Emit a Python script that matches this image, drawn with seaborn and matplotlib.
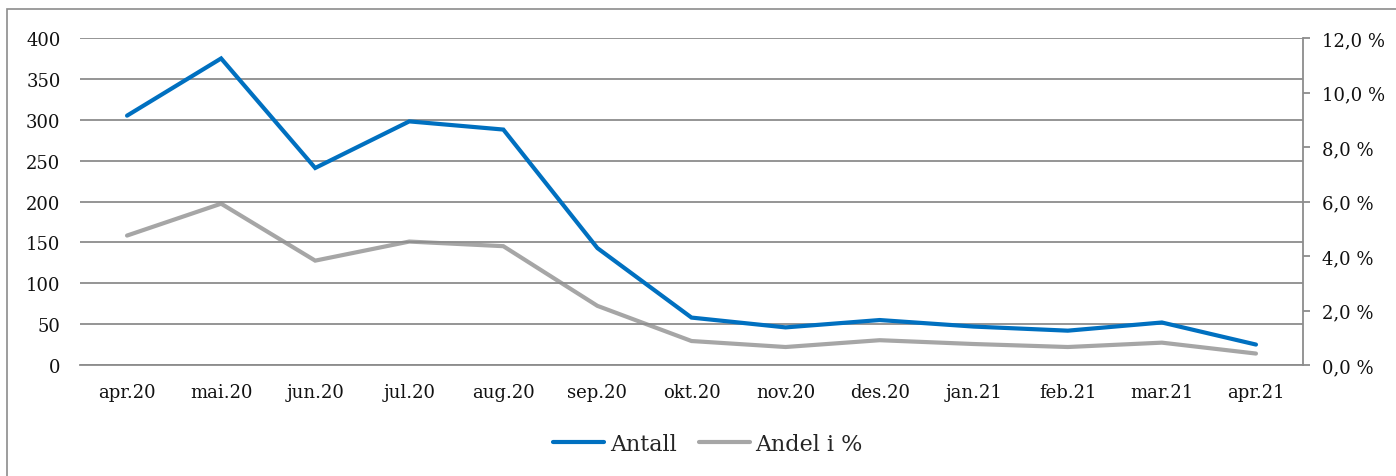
import matplotlib
matplotlib.use("Agg")
import matplotlib.pyplot as plt
from matplotlib.patches import Rectangle
from matplotlib.lines import Line2D
from matplotlib.ticker import FuncFormatter
import seaborn as sns
import pandas as pd

months = ["apr.20", "mai.20", "jun.20", "jul.20", "aug.20", "sep.20", "okt.20",
          "nov.20", "des.20", "jan.21", "feb.21", "mar.21", "apr.21"]
antall = [305, 375, 241, 298, 288, 143, 58, 46, 55, 47, 42, 52, 25]
andel_pct = [4.75, 5.92, 3.83, 4.53, 4.36, 2.17, 0.88, 0.66, 0.91, 0.77, 0.66, 0.82, 0.42]

BLUE = "#0070C0"
GREY = "#A6A6A6"
GRID = "#8C8C8C"

sns.set_theme(style="white")
plt.rcParams["font.family"] = ["DejaVu Serif"]

df = pd.DataFrame({"måned": months, "Antall": antall, "Andel i %": andel_pct})
df["pos"] = range(len(months))

fig = plt.figure(figsize=(13.96, 4.77), dpi=100)
ax = fig.add_axes([80 / 1396, 1 - 366 / 477, (1303 - 80) / 1396, (366 - 39) / 477])
ax2 = ax.twinx()

sns.lineplot(data=df, x="pos", y="Andel i %", ax=ax2, color=GREY, linewidth=3.0,
             solid_capstyle="round", solid_joinstyle="miter", zorder=3)
sns.lineplot(data=df, x="pos", y="Antall", ax=ax, color=BLUE, linewidth=3.0,
             solid_capstyle="round", solid_joinstyle="miter", zorder=4)
# blue series drawn above grey
ax.set_zorder(ax2.get_zorder() + 1)
ax.patch.set_visible(False)

ax.set_xlim(-0.5, len(months) - 0.5)
ax.set_ylim(0, 400)
ax2.set_ylim(0, 12)
ax.set_yticks(range(0, 401, 50))
ax2.set_yticks(range(0, 13, 2))
ax.set_xticks(df["pos"])
ax.set_xticklabels(months)
ax.set_xlabel("")
ax.set_ylabel("")
ax2.set_ylabel("")

ax.yaxis.grid(True, color=GRID, linewidth=1.3)
ax.set_axisbelow(True)
for sp in ["left", "top", "right"]:
    ax.spines[sp].set_visible(False)
for sp in ["left", "top", "bottom"]:
    ax2.spines[sp].set_visible(False)
ax.spines["bottom"].set_color(GRID)
ax.spines["bottom"].set_linewidth(1.3)
ax2.spines["right"].set_color(GRID)
ax2.spines["right"].set_linewidth(1.3)

ax.tick_params(axis="y", length=0, pad=14, labelsize=13, colors="#111111")
ax.tick_params(axis="x", length=0, pad=13, labelsize=13, colors="#111111")
ax2.tick_params(axis="y", length=5, width=1.3, color=GRID, direction="out",
                pad=9, labelsize=13, labelcolor="#111111")
ax2.yaxis.set_major_formatter(FuncFormatter(lambda v, p: f"{v:.1f}".replace(".", ",") + " %"))

# frame around the chart area
fig.patches.append(Rectangle((7 / 1396, -0.1), 1.2, (477 - 10) / 477 + 0.1,
                             transform=fig.transFigure, fill=False,
                             edgecolor="#8C8C8C", linewidth=1.2))

handles = [Line2D([], [], color=BLUE, linewidth=3.0, solid_capstyle="round"),
           Line2D([], [], color=GREY, linewidth=3.0, solid_capstyle="round")]
fig.legend(handles, ["Antall", "Andel i %"], loc="center", bbox_to_anchor=(708 / 1396, 1 - 445 / 477),
           ncol=2, frameon=False, fontsize=16, handlelength=2.3, handletextpad=0.25,
           columnspacing=1.0)

fig.savefig("out.png", dpi=100)
